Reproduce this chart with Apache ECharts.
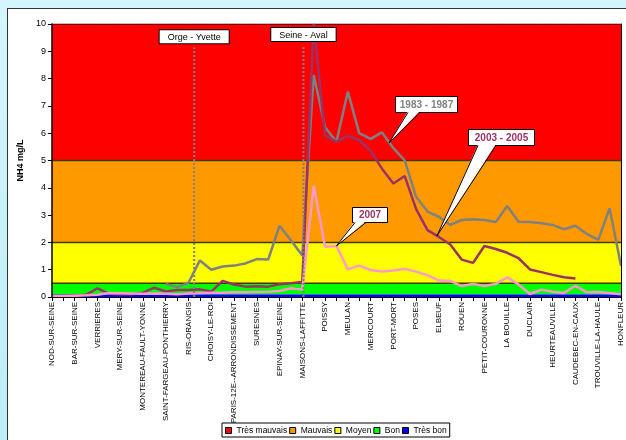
<!DOCTYPE html>
<html lang="fr">
<head>
<meta charset="utf-8" />
<title>NH4 - Seine</title>
<script src="https://cdn.jsdelivr.net/npm/echarts@6/dist/echarts.min.js"></script>
<style>
  html, body { margin: 0; padding: 0; overflow: hidden; }
  body { width: 626px; height: 440px; background: linear-gradient(180deg, #d4f5fb 0%, #bdedf7 100%); }
  #panel { position: absolute; left: 7px; top: 8px; width: 640px; height: 450px; background: #fff; border: 1px solid #333; }
  #chart { position: absolute; left: 0; top: 0; width: 640px; height: 450px; }
</style>
</head>
<body>
<div id="panel"><div id="chart"></div></div>
<script>
// stations, from upstream to the estuary (one unnamed point between each)
var stations = ['NOD-SUR-SEINE', 'BAR-SUR-SEINE', 'VERRIERES', 'MERY-SUR-SEINE', 'MONTEREAU-FAULT-YONNE',
  'SAINT-FARGEAU-PONTHIERRY', 'RIS-ORANGIS', 'CHOISY-LE-ROI', 'PARIS-12E--ARRONDISSEMENT', 'SURESNES',
  'EPINAY-SUR-SEINE', 'MAISONS-LAFFITTE', 'POISSY', 'MEULAN', 'MERICOURT', 'PORT-MORT', 'POSES', 'ELBEUF',
  'ROUEN', 'PETIT-COURONNE', 'LA BOUILLE', 'DUCLAIR', 'HEURTEAUVILLE', 'CAUDEBEC-EN-CAUX',
  'TROUVILLE-LA-HAULE', 'HONFLEUR'];

var y1983 = [null, null, null, null, null, null, null, null, null, null,
  0.48, 0.36, 0.52, 1.34, 1.0, 1.12, 1.15, 1.23, 1.39, 1.37,
  2.61, 2.08, 1.52, 8.13, 6.22, 5.69, 7.52, 6.0, 5.79, 6.03,
  5.45, 5.0, 3.67, 3.13, 2.94, 2.64, 2.82, 2.85, 2.82, 2.75,
  3.33, 2.76, 2.75, 2.7, 2.64, 2.48, 2.61, 2.31, 2.09, 3.25, 1.14];

var y2003 = [0.03, 0.04, 0.05, 0.08, 0.32, 0.12, 0.1, 0.1, 0.16, 0.34,
  0.2, 0.26, 0.26, 0.28, 0.2, 0.59, 0.46, 0.38, 0.39, 0.38,
  0.47, 0.5, 0.55, 10, 5.91, 5.69, 5.91, 5.75, 5.35, 4.7,
  4.16, 4.43, 3.22, 2.45, 2.2, 1.92, 1.37, 1.25, 1.87, 1.76,
  1.62, 1.42, 1.01, 0.91, 0.81, 0.72, 0.68, null, null, null, null];

var y2007 = [0.04, 0.04, 0.05, 0.06, 0.08, 0.15, 0.14, 0.13, 0.12, 0.13,
  0.12, 0.1, 0.13, 0.15, 0.16, 0.16, 0.17, 0.17, 0.18, 0.19,
  0.22, 0.32, 0.27, 4.08, 1.84, 1.87, 1.01, 1.15, 0.99, 0.93,
  0.97, 1.03, 0.93, 0.8, 0.6, 0.59, 0.4, 0.48, 0.4, 0.48,
  0.72, 0.46, 0.11, 0.27, 0.19, 0.15, 0.41, 0.17, 0.18, 0.15, 0.1];

// quality classes (upper limit of each class, mg/L)
var classNames = ['Très bon', 'Bon', 'Moyen', 'Mauvais', 'Très mauvais'];
var classTops = [0.1, 0.5, 2, 5, 10];
var classColors = ['#0000ff', '#00ff00', '#ffff00', '#ff9900', '#ff0000'];

// sub-basin limits (position on the station scale)
var dividers = [
  { name: 'Orge - Yvette', x: 12.5, top: 9.15 },
  { name: 'Seine - Aval', x: 22.1, top: 9.23 }
];

var categories = [];
for (var i = 0; i < y2007.length; i++) {
  categories.push(i % 2 === 0 ? stations[i / 2] : '');
}

var FONT = '"Liberation Sans", Arial, sans-serif';
var chart = echarts.init(document.getElementById('chart'));

var series = [];
classNames.forEach(function (name, k) {
  var h = classTops[k] - (k > 0 ? classTops[k - 1] : 0);
  var edge = k === 0 ? 0 : (k === 4 ? 1 : 1.5);
  series.push({
    name: name,
    type: 'line',
    stack: 'classes',
    symbol: 'none',
    silent: true,
    z: 1,
    color: classColors[k],
    itemStyle: { color: classColors[k] },
    lineStyle: { color: k === 4 ? '#000' : '#3f3800', width: edge },
    areaStyle: { color: classColors[k], opacity: 1 },
    data: categories.map(function () { return h; })
  });
});

[
  { name: '1983 - 1987', data: y1983, color: '#808080' },
  { name: '2003 - 2005', data: y2003, color: '#993366' },
  { name: '2007', data: y2007, color: '#ff99cc' }
].forEach(function (s) {
  series.push({
    name: s.name,
    type: 'line',
    symbol: 'none',
    z: 3,
    lineStyle: { color: s.color, width: 2.5 },
    data: s.data
  });
});

dividers.forEach(function (d) {
  series.push({
    name: d.name,
    type: 'line',
    xAxisIndex: 1,
    symbol: 'circle',
    symbolSize: 0.01,
    silent: true,
    z: 4,
    lineStyle: { color: '#808080', width: 2, type: [2, 2] },
    data: [[d.x, 0], {
      value: [d.x, d.top],
      label: {
        show: true, position: 'top', distance: 4, formatter: d.name,
        fontFamily: FONT, fontSize: 9, color: '#000', lineHeight: 10,
        backgroundColor: '#fff', borderColor: '#000', borderWidth: 1, padding: [2, 8, 1, 8]
      }
    }]
  });
});

chart.setOption({
  animation: false,
  textStyle: { fontFamily: FONT },
  grid: { left: 41, top: 15, width: 572, height: 273 },
  legend: {
    data: ['Très mauvais', 'Mauvais', 'Moyen', 'Bon', 'Très bon'],
    left: 214, top: 414,
    icon: 'rect', itemWidth: 6, itemHeight: 6, itemGap: 2,
    itemStyle: { borderColor: '#000', borderWidth: 1 },
    padding: [3, 3, 2, 3],
    borderColor: '#000', borderWidth: 1,
    selectedMode: false,
    textStyle: { fontFamily: FONT, fontSize: 8.5, color: '#000' }
  },
  xAxis: [{
    type: 'category',
    data: categories,
    boundaryGap: false,
    z: 10,
    axisLine: { lineStyle: { color: '#000', width: 1 } },
    axisTick: { interval: 0, length: 4, lineStyle: { color: '#000' } },
    axisLabel: { interval: 0, rotate: 90, margin: 5, fontSize: 8, color: '#000', fontFamily: FONT },
    splitLine: { show: false }
  }, {
    type: 'value', min: 0, max: 50, show: false
  }],
  yAxis: [{
    type: 'value', min: 0, max: 10, interval: 1,
    name: 'NH4 mg/L', nameLocation: 'middle', nameGap: 21,
    nameTextStyle: { fontFamily: FONT, fontSize: 9, fontWeight: 'bold', color: '#000' },
    z: 10,
    axisLine: { show: true, lineStyle: { color: '#000', width: 1.5 } },
    axisTick: { show: true, length: 4, lineStyle: { color: '#000' } },
    axisLabel: { margin: 6, fontSize: 9, color: '#000', fontFamily: FONT },
    splitLine: { show: false }
  }, {
    type: 'value', min: 0, max: 10, position: 'right', z: 10,
    axisLine: { show: true, lineStyle: { color: '#000', width: 1 } },
    axisTick: { show: false }, axisLabel: { show: false }, splitLine: { show: false }
  }],
  series: series
});

// callouts pointing at the curves
var callouts = [
  { text: '1983 - 1987', color: '#808080', at: [29.63, 5.65], box: [387, 87, 62, 16], base: [400, 412] },
  { text: '2003 - 2005', color: '#993366', at: [33.83, 2.24], box: [460, 120, 66, 16], base: [470, 488] },
  { text: '2007', color: '#993366', at: [25, 1.87], box: [344, 198, 35, 15], base: [347, 358] }
];
var g = [];
callouts.forEach(function (c) {
  var tip = chart.convertToPixel({ xAxisIndex: 1, yAxisIndex: 0 }, c.at);
  var b = c.box;
  var by = b[1] + b[3];
  g.push({ type: 'rect', z: 100, shape: { x: b[0] + 0.5, y: b[1] + 0.5, width: b[2], height: b[3] },
    style: { fill: '#fff', stroke: '#000', lineWidth: 1 } });
  g.push({ type: 'polygon', z: 101, shape: { points: [tip, [c.base[0], by - 1], [c.base[1], by - 1]] },
    style: { fill: '#fff' } });
  g.push({ type: 'polyline', z: 102, shape: { points: [[c.base[0], by + 0.5], tip, [c.base[1], by + 0.5]] },
    style: { stroke: '#000', lineWidth: 1 } });
  g.push({ type: 'text', z: 103, x: b[0] + b[2] / 2 + 0.5, y: b[1] + b[3] / 2 + 1,
    style: { text: c.text, fill: c.color, fontFamily: FONT, fontSize: 10, fontWeight: 'bold',
      align: 'center', verticalAlign: 'middle' } });
});
chart.setOption({ graphic: g });
</script>
</body>
</html>
